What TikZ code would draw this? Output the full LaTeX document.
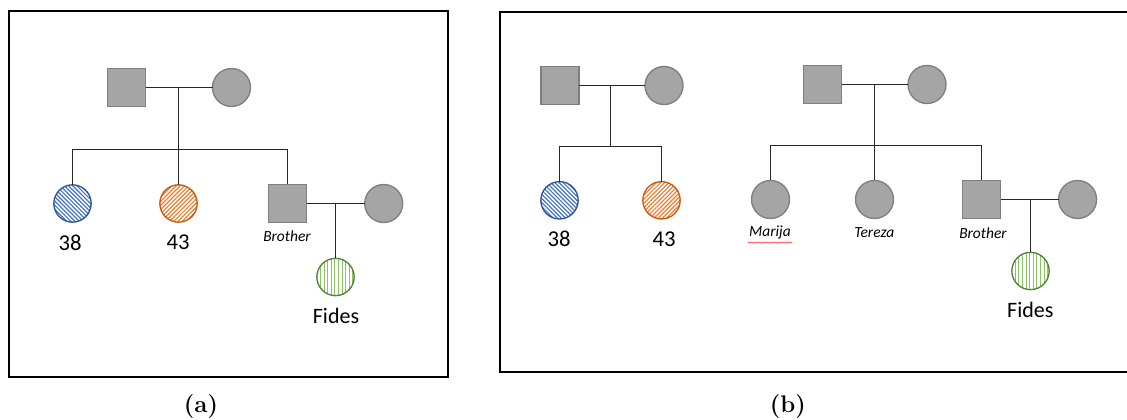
\documentclass[tikz,border=0pt]{standalone}
\usepackage{fontspec}
\newfontfamily\calib{Carlito}
\usetikzlibrary{patterns.meta,decorations.pathmorphing}
\definecolor{pgray}{HTML}{A5A5A5}
\definecolor{bgray}{HTML}{7F7F7F}
\definecolor{bluep}{HTML}{4472C4}
\definecolor{blueb}{HTML}{2F5597}
\definecolor{orap}{HTML}{ED7D31}
\definecolor{orab}{HTML}{C55A11}
\definecolor{grnp}{HTML}{8CC168}
\definecolor{grnb}{HTML}{538135}
\begin{document}
\begin{tikzpicture}[x=0.75pt,y=0.75pt,
  sqbox/.style={rectangle, draw=bgray, fill=pgray, line width=1pt, minimum size=28.5pt, inner sep=0pt, outer sep=0pt},
  cibox/.style={circle, draw=bgray, fill=pgray, line width=1pt, minimum size=28.5pt, inner sep=0pt, outer sep=0pt},
  blucirc/.style={circle, draw=blueb, line width=1pt, minimum size=28pt, inner sep=0pt, outer sep=0pt,
    pattern={Lines[angle=-45,distance=2.2pt,line width=0.9pt]}, pattern color=bluep},
  oracirc/.style={circle, draw=orab, line width=1pt, minimum size=28pt, inner sep=0pt, outer sep=0pt,
    pattern={Lines[angle=45,distance=2.2pt,line width=0.9pt]}, pattern color=orap},
  grncirc/.style={circle, draw=grnb, line width=1pt, minimum size=28pt, inner sep=0pt, outer sep=0pt,
    pattern={Lines[angle=90,distance=2.7pt,line width=0.7pt]}, pattern color=grnp},
  linkline/.style={draw=black!85, line width=0.75pt},
  frmline/.style={draw=black, line width=1.6pt},
  numtxt/.style={font=\calib\fontsize{17}{20}\selectfont, inner sep=0pt},
  nametxt/.style={font=\calib\fontsize{16.5}{20}\selectfont, inner sep=0pt},
  smalltxt/.style={font=\calib\itshape\fontsize{11.6}{13}\selectfont, inner sep=0pt},
  captxt/.style={font=\bfseries\fontsize{18}{21}\selectfont, inner sep=0pt}]
\useasboundingbox (0,0) rectangle (1127,420);
% frames
\draw[frmline] (9,43) rectangle (448,409);
\draw[frmline] (1135,408.3) -- (500,408.3) -- (500,48) -- (1135,48);
% ---------- panel (a) ----------
\node[sqbox] (F1) at (126.5,332.5) {};
\node[cibox] (M1) at (231.5,332.5) {};
\node[blucirc] (C1) at (72.5,216.5) {};
\node[oracirc] (C2) at (178.5,216.5) {};
\node[sqbox] (B1) at (287.5,216.5) {};
\node[cibox] (W1) at (383.7,216.5) {};
\node[grncirc] (D1) at (335.5,143) {};
\coordinate (m1) at (178.5,332.5);
\coordinate (j1) at (178.5,270.5);
\coordinate (k1) at (335.5,216.5);
\draw[linkline] (F1.east) -- (M1.west);
\draw[linkline] (m1) -- (j1);
\draw[linkline] (C1.north) |- (j1) -| (B1.north);
\draw[linkline] (j1) -- (C2.north);
\draw[linkline] (B1.east) -- (W1.west);
\draw[linkline] (k1) -- (D1.north);
\node[numtxt] (L1) at (70,177.3) {38};
\node[numtxt] (L2) at (178,177.3) {43};
\node[smalltxt] (L3) at (287,184) {Brother};
\node[nametxt] (L4) at (336,104) {Fides};
\node[captxt] (CA) at (201,13) {(a)};
% ---------- panel (b) ----------
\node[sqbox] (F2) at (560,334.5) {};
\node[cibox] (M2) at (664,334.5) {};
\node[blucirc] (C3) at (559.5,219.7) {};
\node[oracirc] (C4) at (661.5,219.7) {};
\coordinate (m2) at (610.5,334.5);
\coordinate (j2) at (610.5,273.5);
\draw[linkline] (F2.east) -- (M2.west);
\draw[linkline] (m2) -- (j2);
\draw[linkline] (C3.north) |- (j2) -| (C4.north);
\node[numtxt] (L5) at (559,180.7) {38};
\node[numtxt] (L6) at (664,180.7) {43};
\node[sqbox] (F3) at (822.7,335.5) {};
\node[cibox] (M3) at (927,335.5) {};
\node[cibox] (S1) at (770.5,220.5) {};
\node[cibox] (S2) at (874.5,220.5) {};
\node[sqbox] (B2) at (981.5,220.5) {};
\node[cibox] (W2) at (1077.6,220.5) {};
\node[grncirc] (D2) at (1030.5,149) {};
\coordinate (m3) at (874.5,335.5);
\coordinate (j3) at (874.5,274.5);
\coordinate (k2) at (1030.5,220.5);
\draw[linkline] (F3.east) -- (M3.west);
\draw[linkline] (m3) -- (j3);
\draw[linkline] (S1.north) |- (j3) -| (B2.north);
\draw[linkline] (j3) -- (S2.north);
\draw[linkline] (B2.east) -- (W2.west);
\draw[linkline] (k2) -- (D2.north);
\node[smalltxt] (L7) at (770,187) {Marija};
\node[smalltxt] (L8) at (874.3,187) {Tereza};
\node[smalltxt] (L9) at (983,187) {Brother};
\node[nametxt] (L10) at (1030.3,110.3) {Fides};
\draw[red!80, line width=0.4pt, decorate, decoration={snake, amplitude=0.5pt, segment length=2pt}]
  ([xshift=-1pt,yshift=-2pt]L7.south west) -- ([xshift=1pt,yshift=-2pt]L7.south east);
\node[captxt] (CB) at (787.8,13) {(b)};
\end{tikzpicture}
\end{document}
